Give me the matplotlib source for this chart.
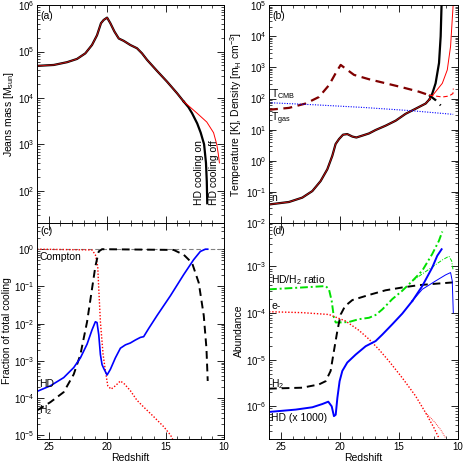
import matplotlib
matplotlib.use("Agg")
import matplotlib.pyplot as plt
import numpy as np

plt.rcParams['font.family'] = ['Liberation Sans', 'DejaVu Sans']
plt.rcParams['font.size'] = 7.5
plt.rcParams['mathtext.fontset'] = 'custom'
plt.rcParams['mathtext.rm'] = 'Liberation Sans'
plt.rcParams['mathtext.it'] = 'Liberation Sans'

# ---- panel (a): Jeans mass, log10 M_sun ----
z_mj_common = [26.0, 24.57, 23.43, 22.58, 21.87, 21.3, 20.87, 20.53, 20.3, 20.01, 19.73, 19.38, 19.01,
               18.59, 18.02, 17.45, 17.02, 16.59, 15.73, 14.88, 14.02, 13.45]
mj_common = [4.69, 4.71, 4.77, 4.84, 4.96, 5.14, 5.35, 5.61, 5.68, 5.73, 5.61, 5.43, 5.28,
             5.23, 5.14, 5.07, 4.96, 4.82, 4.58, 4.35, 4.10, 3.92]
z_mj_on = [13.45, 13.05, 12.74, 12.3, 12.0, 11.71, 11.55, 11.48, 11.44]
mj_on = [3.92, 3.80, 3.67, 3.45, 3.25, 3.00, 2.60, 2.20, 1.73]
z_mj_off = [13.45, 12.9, 12.31, 11.48, 10.9, 10.63, 10.5, 10.4]
mj_off = [3.92, 3.80, 3.67, 3.48, 3.25, 3.00, 2.80, 2.60]

# ---- panel (b): density (log10) and gas temperature (log10) ----
z_n_common = [26.0, 24.31, 23.18, 22.33, 21.63, 21.06, 20.64, 20.36, 20.07, 19.73, 19.37, 18.94, 18.6,
              18.1, 17.53, 16.97, 16.12, 15.27, 14.43, 13.6, 12.73, 12.4]
n_common = [-1.40, -1.32, -1.18, -0.97, -0.65, -0.27, 0.16, 0.54, 0.70, 0.84, 0.86, 0.78, 0.75,
            0.81, 0.88, 0.99, 1.13, 1.29, 1.51, 1.67, 1.84, 1.98]
z_n_on = [12.4, 12.17, 11.89, 11.6, 11.46, 11.38]
n_on = [1.98, 2.16, 2.49, 3.14, 4.00, 5.08]
z_n_off = [12.4, 11.89, 11.32, 10.9, 10.62, 10.48, 10.39]
n_off = [1.98, 2.22, 2.49, 2.92, 3.68, 4.54, 5.08]

z_t_common = [26.0, 24.31, 22.9, 21.77, 20.92, 20.36, 19.93, 19.37, 18.8, 17.53, 16.12, 14.71, 13.3, 12.45]
t_common = [1.64, 1.70, 1.84, 2.05, 2.43, 2.81, 3.08, 2.92, 2.76, 2.62, 2.49, 2.36, 2.22, 2.11]
z_t_on = [12.45, 11.89, 11.46]
t_on = [2.11, 1.95, 1.78]
z_t_off = [12.45, 11.89, 11.32, 10.76, 10.42, 10.39]
t_off = [2.11, 2.08, 2.05, 2.08, 2.16, 2.32]

z_cmb = [26.0, 22.0, 18.0, 14.0, 10.4]
t_cmb = [73.6, 62.7, 51.8, 40.9, 31.1]

# ---- panel (c): fraction of total cooling (log10) ----
z_compton = [26.0, 21.3, 21.01, 20.81, 20.72, 20.58, 20.35, 20.15, 19.95, 19.67, 19.3, 18.87, 18.53,
             18.02, 17.45, 16.88, 16.02, 15.16, 14.59, 14.4]
f_compton = [0.0, -0.02, -0.15, -0.46, -1.07, -1.95, -2.83, -3.27, -3.67, -3.76, -3.67, -3.54, -3.62,
             -3.80, -4.06, -4.24, -4.50, -4.77, -4.99, -5.10]
z_h2cool = [26.0, 24.86, 23.72, 22.86, 22.29, 21.72, 21.3, 21.01, 20.72, 20.44, 14.31, 13.45, 12.74,
            12.17, 11.74, 11.51, 11.4]
f_h2cool = [-4.33, -4.11, -3.84, -3.36, -2.83, -1.95, -1.07, -0.46, -0.06, 0.0, -0.02, -0.15, -0.37,
            -0.90, -1.78, -2.66, -3.54]
z_hdcool = [26.0, 24.86, 23.72, 22.86, 22.29, 21.72, 21.3, 21.01, 20.87, 20.72, 20.58, 20.44, 20.3,
            20.01, 19.73, 19.3, 18.87, 18.44, 18.02, 17.59, 17.16, 16.88, 16.45, 15.73, 14.59, 13.45,
            12.6, 12.03, 11.6, 11.4]
f_hdcool = [-3.82, -3.67, -3.45, -3.18, -2.92, -2.55, -2.17, -1.95, -1.97, -2.30, -2.83, -3.10, -3.20,
            -3.38, -3.23, -2.92, -2.66, -2.57, -2.52, -2.44, -2.37, -2.35, -2.13, -1.78, -1.25, -0.68,
            -0.28, -0.06, 0.0, 0.0]

# ---- panel (d): abundances (log10) ----
z_ratio = [26.0, 23.18, 21.2, 20.92, 20.69, 20.5, 20.35, 19.93, 19.23, 18.38, 17.53, 16.97, 16.4,
           15.56, 14.71, 13.86]
x_ratio = [-3.49, -3.45, -3.42, -3.49, -3.74, -4.10, -4.20, -4.20, -4.19, -4.13, -4.10, -4.04, -3.92,
           -3.70, -3.52, -3.31]
z_ratio_on = [13.86, 13.02, 12.17, 11.61, 11.32]
x_ratio_on = [-3.31, -3.09, -2.73, -2.45, -2.25]
z_ratio_off = [13.86, 13.02, 12.17, 11.32, 10.76, 10.53, 10.42]
x_ratio_off = [-3.31, -3.16, -3.01, -2.86, -2.78, -2.88, -3.06]

z_h2 = [26.0, 23.18, 21.77, 21.2, 20.78, 20.5, 20.21, 19.93, 19.56, 18.94, 17.53, 16.12, 14.71,
        13.3, 11.89, 10.34]
x_h2 = [-5.62, -5.60, -5.53, -5.46, -5.24, -4.81, -4.38, -4.03, -3.85, -3.72, -3.61, -3.51, -3.45,
        -3.40, -3.37, -3.34]

z_e = [26.0, 23.18, 20.92, 19.51, 18.38, 17.53, 16.69, 15.84, 14.71, 13.58, 12.73, 12.03, 11.61]
x_e = [-3.97, -3.99, -4.03, -4.17, -4.37, -4.56, -4.78, -5.03, -5.39, -5.78, -6.14, -6.46, -6.68]
z_e_off = [12.73, 12.03, 11.46, 11.04]
x_e_off = [-6.14, -6.32, -6.50, -6.68]

z_hd = [26.0, 23.74, 22.33, 21.48, 20.98, 20.69, 20.5, 20.35, 20.21, 20.02, 19.79, 19.37, 18.66,
        17.81, 16.97, 16.4, 15.56, 14.71, 13.86]
x_hd = [-6.12, -6.07, -6.02, -5.95, -5.90, -6.00, -6.21, -6.18, -5.82, -5.46, -5.24, -5.06, -4.89,
        -4.71, -4.60, -4.46, -4.24, -4.01, -3.74]
z_hd_on = [13.86, 13.02, 12.17, 11.75, 11.38]
x_hd_on = [-3.74, -3.42, -3.02, -2.77, -2.63]
z_hd_off = [13.86, 13.02, 11.89, 11.04, 10.62, 10.48, 10.39]
x_hd_off = [-3.74, -3.49, -3.31, -3.18, -3.13, -3.31, -3.99]


def p10(v):
    return 10.0 ** np.array(v)


DASH = (0, (4, 2.5))
DOT = (0, (1, 1.3))
DASHDOT = (0, (4, 1.5, 1, 1.5))

fig = plt.figure(figsize=(4.63, 4.63), dpi=100)
ax_a = fig.add_axes([0.080, 0.518, 0.404, 0.471])
ax_b = fig.add_axes([0.581, 0.518, 0.408, 0.471])
ax_c = fig.add_axes([0.080, 0.052, 0.404, 0.466])
ax_d = fig.add_axes([0.581, 0.052, 0.408, 0.466])

for ax in (ax_a, ax_b, ax_c, ax_d):
    ax.set_yscale('log')
    ax.set_xlim(26, 10)
    ax.set_xticks([25, 20, 15, 10])
    ax.set_xticks(np.arange(10, 27, 1), minor=True)
    ax.tick_params(which='both', direction='in', top=True, right=True, labelsize=7, pad=2)
    ax.tick_params(which='major', length=5, width=0.6)
    ax.tick_params(which='minor', length=2.5, width=0.5)
    for s in ax.spines.values():
        s.set_linewidth(0.7)

# (a)
ax_a.plot(z_mj_common, p10(mj_common), color='black', lw=1.6)
ax_a.plot(z_mj_on, p10(mj_on), color='black', lw=1.6)
ax_a.plot(z_mj_common, p10(mj_common), color='#c01010', lw=0.7)
ax_a.plot(z_mj_off, p10(mj_off), color='red', lw=0.7)
ax_a.set_ylim(20, 1e6)
ax_a.set_xticklabels([])
ax_a.set_ylabel(r'Jeans mass [M$_{\rm sun}$]', labelpad=1)
ax_a.text(0.02, 0.975, '(a)', transform=ax_a.transAxes, va='top', ha='left')
ax_a.text(12.15, 50, 'HD cooling on', rotation=90, ha='center', va='bottom')
ax_a.text(10.9, 50, 'HD cooling off', rotation=90, ha='center', va='bottom')

# (b)
ax_b.plot(z_n_common, p10(n_common), color='black', lw=1.6)
ax_b.plot(z_n_on, p10(n_on), color='black', lw=1.6)
ax_b.plot(z_n_common, p10(n_common), color='#c01010', lw=0.7)
ax_b.plot(z_n_off, p10(n_off), color='red', lw=0.7)
ax_b.plot(z_t_common, p10(t_common), color='#800000', lw=1.6, ls=DASH)
ax_b.plot(z_t_on, p10(t_on), color='black', lw=1.6, ls=DASH)
ax_b.plot(z_t_off, p10(t_off), color='red', lw=0.8, ls=DASH)
ax_b.plot(z_cmb, t_cmb, color='blue', lw=0.8, ls=DOT)
ax_b.set_ylim(1e-2, 1e5)
ax_b.set_xticklabels([])
ax_b.set_ylabel(r'Temperature [K], Density [m$_{\rm H}$ cm$^{-3}$]', labelpad=1)
ax_b.text(0.02, 0.975, '(b)', transform=ax_b.transAxes, va='top', ha='left')
ax_b.text(25.8, 82, r'T$_{\rm CMB}$', ha='left', va='bottom')
ax_b.text(25.8, 42, r'T$_{\rm gas}$', ha='left', va='top')
ax_b.text(25.8, 0.045, 'n', ha='left', va='bottom')

# (c)
ax_c.axhline(1.0, color='gray', lw=0.8, ls=DASH)
ax_c.plot(z_compton, p10(f_compton), color='red', lw=1.0, ls=DOT)
ax_c.plot(z_h2cool, p10(f_h2cool), color='black', lw=1.4, ls=DASH)
ax_c.plot(z_hdcool, p10(f_hdcool), color='blue', lw=1.2)
ax_c.set_ylim(8e-6, 5)
ax_c.set_xlabel('Redshift', labelpad=1)
ax_c.set_ylabel('Fraction of total cooling', labelpad=1)
ax_c.text(0.02, 0.985, '(c)', transform=ax_c.transAxes, va='top', ha='left')
ax_c.text(25.8, 0.85, 'Compton', ha='left', va='top')
ax_c.text(25.8, 2.4e-4, 'HD', ha='left', va='center')
ax_c.text(25.8, 7.5e-5, r'H$_2$', ha='left', va='top')

# (d)
ax_d.plot(z_ratio, p10(x_ratio), color='#00e000', lw=1.4, ls=DASHDOT)
ax_d.plot(z_ratio_on, p10(x_ratio_on), color='#00e000', lw=1.4, ls=DASHDOT)
ax_d.plot(z_ratio_off, p10(x_ratio_off), color='#00e000', lw=0.7, ls=DASHDOT)
ax_d.plot(z_h2, p10(x_h2), color='black', lw=1.4, ls=DASH)
ax_d.plot(z_e, p10(x_e), color='red', lw=1.0, ls=DOT)
ax_d.plot(z_e_off, p10(x_e_off), color='red', lw=0.6, ls=DOT)
ax_d.plot(z_hd, p10(x_hd), color='blue', lw=1.4)
ax_d.plot(z_hd_on, p10(x_hd_on), color='blue', lw=1.4)
ax_d.plot(z_hd_off, p10(x_hd_off), color='blue', lw=0.7)
ax_d.set_ylim(2e-7, 8.5e-3)
ax_d.set_xlabel('Redshift', labelpad=1)
ax_d.set_ylabel('Abundance', labelpad=1)
ax_d.text(0.02, 0.985, '(d)', transform=ax_d.transAxes, va='top', ha='left')
ax_d.text(25.8, 10 ** -3.29, r'HD/H$_2$ ratio', ha='left', va='center')
ax_d.text(25.8, 10 ** -3.85, 'e-', ha='left', va='center')
ax_d.text(25.8, 10 ** -5.52, r'H$_2$', ha='left', va='center')
ax_d.text(25.8, 10 ** -6.26, 'HD (x 1000)', ha='left', va='center')

fig.savefig('out.png', dpi=100)
